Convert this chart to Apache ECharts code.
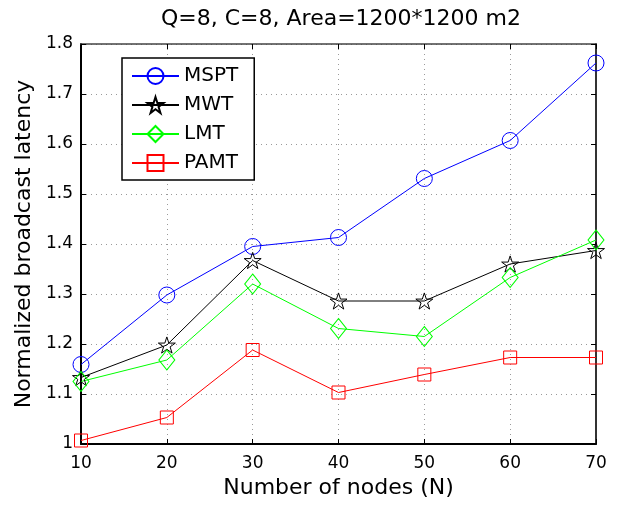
<!DOCTYPE html>
<html>
<head>
<meta charset="utf-8">
<script src="https://cdn.jsdelivr.net/npm/echarts@6/dist/echarts.min.js"></script>
<style>html,body{margin:0;padding:0;background:#fff}#c{width:620px;height:506px}</style>
</head>
<body>
<div id="c"></div>
<script>
const nodes = [10, 20, 30, 40, 50, 60, 70];
const mspt = [1.159, 1.298, 1.395, 1.413, 1.531, 1.607, 1.762];
const mwt  = [1.133, 1.198, 1.367, 1.286, 1.286, 1.360, 1.387];
const lmt  = [1.125, 1.168, 1.320, 1.231, 1.215, 1.333, 1.408];
const pamt = [1.007, 1.053, 1.188, 1.103, 1.139, 1.173, 1.173];
const seriesNames = ['MSPT', 'MWT', 'LMT', 'PAMT'];
const xTicks = [10, 20, 30, 40, 50, 60, 70];
const yTicks = [1, 1.1, 1.2, 1.3, 1.4, 1.5, 1.6, 1.7, 1.8];

const FONT = '"DejaVu Sans", "Liberation Sans", Arial, sans-serif';
const STAR = 'path://M0,-10 L2.245,-3.09 L9.51,-3.09 L3.633,1.18 L5.878,8.09 L0,3.82 L-5.878,8.09 L-3.633,1.18 L-9.51,-3.09 L-2.245,-3.09 Z';

function pts(arr){ return nodes.map((n,i)=>[n, arr[i]]); }
function mk(name, data, color, symbol, size){
  return {
    name: name, type: 'line', data: pts(data),
    symbol: symbol, symbolSize: size, symbolKeepAspect: true,
    showAllSymbol: true,
    lineStyle: {color: color, width: 1},
    itemStyle: {color: 'rgba(0,0,0,0)', borderColor: color, borderWidth: 1},
    emphasis: {disabled: true},
    animation: false, z: 3
  };
}

const chart = echarts.init(document.getElementById('c'), null, {renderer: 'canvas'});
const gridLine = {show: true, lineStyle: {color: '#9a9a9a', type: [1, 4], width: 1}};
chart.setOption({
  backgroundColor: '#fff',
  animation: false,
  title: {
    text: 'Q=8, C=8, Area=1200*1200 m2',
    left: 341, top: 8, textAlign: 'center', padding: 0,
    textStyle: {fontFamily: FONT, fontSize: 22, fontWeight: 'normal', color: '#000'}
  },
  legend: {
    orient: 'vertical', left: 122, top: 58,
    data: seriesNames,
    itemWidth: 47, itemHeight: 20, itemGap: 9,
    padding: [8, 16, 7, 9],
    borderColor: '#000', borderWidth: 1.5, backgroundColor: '#fff',
    textStyle: {fontFamily: FONT, fontSize: 20, color: '#000'},
    selectedMode: false
  },
  grid: {left: 81, right: 24, top: 44, bottom: 62, containLabel: false},
  xAxis: [{
    type: 'value', min: 10, max: 70, interval: 10,
    name: 'Number of nodes (N)', nameLocation: 'middle', nameGap: 32,
    nameTextStyle: {fontFamily: FONT, fontSize: 22, color: '#000'},
    axisLine: {show: true, onZero: false, lineStyle: {color: '#000', width: 2}},
    axisTick: {show: true, inside: true, length: 5, lineStyle: {color: '#000'}},
    axisLabel: {fontFamily: FONT, fontSize: 17, color: '#000', margin: 11, formatter: v => xTicks.includes(v) ? String(v) : ''},
    splitLine: gridLine
  }, {
    type: 'value', min: 10, max: 70, interval: 10, position: 'top',
    axisLine: {show: true, onZero: false, lineStyle: {color: '#444', width: 1.5}},
    axisTick: {show: true, inside: true, length: 5, lineStyle: {color: '#000'}},
    axisLabel: {show: false}, splitLine: {show: false}
  }],
  yAxis: [{
    type: 'value', min: 1, max: 1.8, interval: 0.1,
    name: 'Normalized broadcast latency', nameLocation: 'middle', nameGap: 43,
    nameTextStyle: {fontFamily: FONT, fontSize: 22, color: '#000'},
    axisLine: {show: true, onZero: false, lineStyle: {color: '#000', width: 2}},
    axisTick: {show: true, inside: true, length: 5, lineStyle: {color: '#000'}},
    axisLabel: {fontFamily: FONT, fontSize: 17, color: '#000', margin: 8,
      formatter: v => { const t = yTicks.find(y => Math.abs(y - v) < 1e-6); return t === undefined ? '' : String(t); }},
    splitLine: gridLine
  }, {
    type: 'value', min: 1, max: 1.8, interval: 0.1, position: 'right',
    axisLine: {show: true, onZero: false, lineStyle: {color: '#333', width: 2}},
    axisTick: {show: true, inside: true, length: 5, lineStyle: {color: '#000'}},
    axisLabel: {show: false}, splitLine: {show: false}
  }],
  series: [
    mk('MSPT', mspt, '#0000ff', 'circle', 16),
    mk('MWT', mwt, '#000000', STAR, 17),
    mk('LMT', lmt, '#00ff00', 'diamond', [16, 20]),
    mk('PAMT', pamt, '#ff0000', 'rect', 13)
  ]
});
</script>
</body>
</html>
